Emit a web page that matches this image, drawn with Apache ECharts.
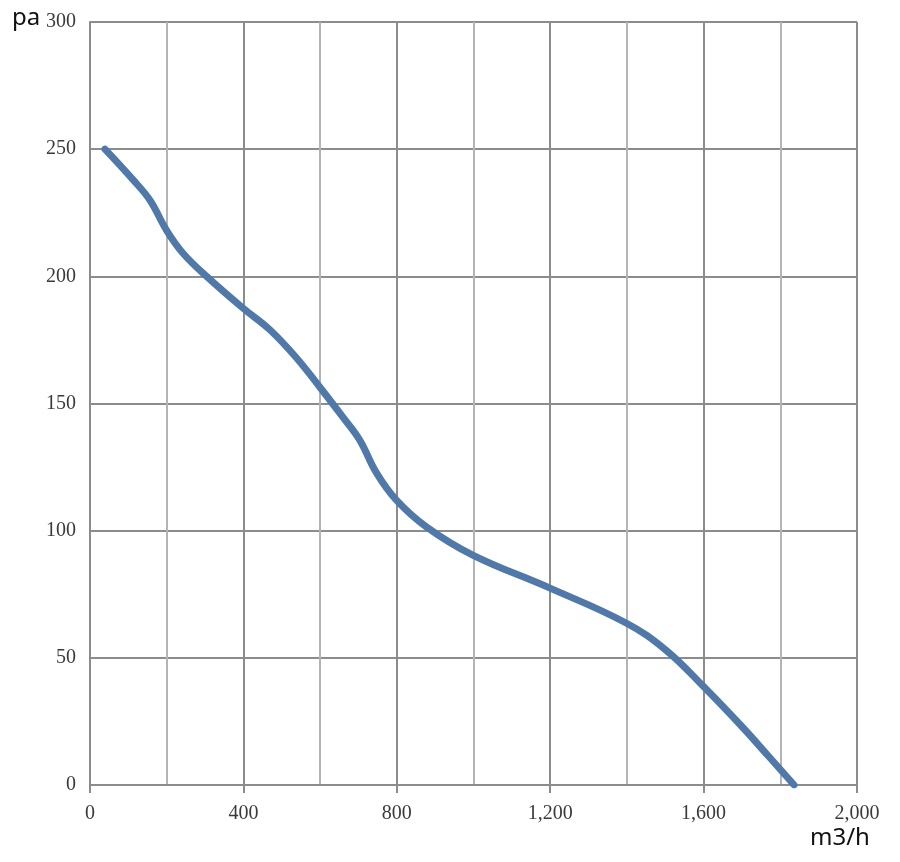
<!DOCTYPE html>
<html>
<head>
<meta charset="utf-8">
<title>fan curve</title>
<script src="https://cdn.jsdelivr.net/npm/echarts@6/dist/echarts.min.js"></script>
<style>
  html, body { margin: 0; padding: 0; background: #fff; }
  #chart { width: 900px; height: 862px; }
</style>
</head>
<body>
<div id="chart"></div>
<script>
// 风量 (m3/h) 与静压 (pa)
var flow = [39, 112, 156, 200, 243, 304, 399, 469, 538, 599, 659, 703, 747, 799, 877, 998, 1198, 1398, 1502, 1596, 1701, 1770, 1836];
var pressure = [250, 238, 230, 218, 209, 200, 187.5, 179, 168, 156.5, 144.7, 135.7, 122.7, 112, 101.5, 90.4, 77.5, 63.7, 53, 39.3, 22.8, 11.2, 0];

var xTicks = [0, 400, 800, 1200, 1600, 2000];
var yTicks = [0, 50, 100, 150, 200, 250, 300];

var darkGrid = '#8c8c8c';
var lightGrid = '#b3b3b8';
var labelFont = '"Liberation Serif", "DejaVu Serif", serif';

var points = [];
for (var i = 0; i < flow.length; i++) {
    points.push([flow[i], pressure[i]]);
}

function withComma(v) {
    return String(v).replace(/\B(?=(\d{3})+(?!\d))/g, ',');
}

var chart = echarts.init(document.getElementById('chart'));
var option = {
    animation: false,
    backgroundColor: '#fff',
    grid: { left: 90, right: 43, top: 22, bottom: 77, containLabel: false },
    xAxis: {
        type: 'value',
        min: xTicks[0],
        max: xTicks[xTicks.length - 1],
        interval: 400,
        axisLine: { show: true, lineStyle: { color: darkGrid, width: 2 } },
        axisTick: { show: true, length: 8, lineStyle: { color: darkGrid, width: 2 } },
        axisLabel: {
            margin: 19,
            color: '#3a3a3a',
            fontFamily: labelFont,
            fontSize: 20,
            formatter: withComma
        },
        splitLine: { show: true, lineStyle: { color: darkGrid, width: 2 } },
        minorTick: { show: false, splitNumber: 2 },
        minorSplitLine: { show: true, lineStyle: { color: lightGrid, width: 2 } }
    },
    yAxis: {
        type: 'value',
        min: yTicks[0],
        max: yTicks[yTicks.length - 1],
        interval: 50,
        axisLine: { show: true, lineStyle: { color: darkGrid, width: 2 } },
        axisTick: { show: false },
        axisLabel: {
            margin: 14,
            color: '#3a3a3a',
            fontFamily: labelFont,
            fontSize: 20
        },
        splitLine: { show: true, lineStyle: { color: darkGrid, width: 2 } }
    },
    graphic: [
        {
            type: 'text', left: 12, top: 6,
            style: { text: 'pa', fill: '#111', font: '24px "Noto Sans", "DejaVu Sans", sans-serif' }
        },
        {
            type: 'text', left: 810, top: 826,
            style: { text: 'm3/h', fill: '#111', font: '24px "Noto Sans", "DejaVu Sans", sans-serif' }
        }
    ],
    series: [{
        type: 'line',
        data: points,
        smooth: 0.4,
        showSymbol: false,
        lineStyle: { color: '#5079a9', width: 7, cap: 'round' }
    }]
};
chart.setOption(option);
</script>
</body>
</html>
